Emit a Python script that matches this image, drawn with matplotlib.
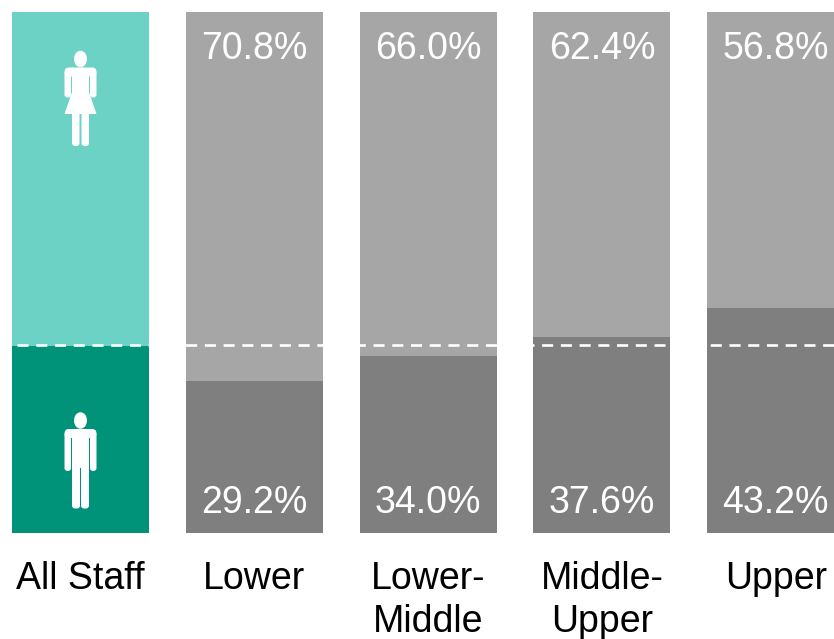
import matplotlib
matplotlib.use("Agg")
import matplotlib.pyplot as plt
from matplotlib.patches import Ellipse, FancyBboxPatch, Polygon

plt.rcParams['font.family'] = ['Liberation Sans', 'DejaVu Sans']

categories = ["All Staff", "Lower", "Lower-\nMiddle", "Middle-\nUpper", "Upper"]
male = [35.9, 29.2, 34.0, 37.6, 43.2]
female = [64.1, 70.8, 66.0, 62.4, 56.8]
male_labels = ["", "29.2%", "34.0%", "37.6%", "43.2%"]
female_labels = ["", "70.8%", "66.0%", "62.4%", "56.8%"]
male_colors = ["#009379", "#7F7F7F", "#7F7F7F", "#7F7F7F", "#7F7F7F"]
female_colors = ["#6BD2C5", "#A6A6A6", "#A6A6A6", "#A6A6A6", "#A6A6A6"]
all_staff_line = 36.0

W, H = 834, 639
fig = plt.figure(figsize=(W / 100, H / 100), dpi=100)

# bars live in an axes that stops at the bar top and baseline
ax = fig.add_axes([0, (H - 532.5) / H, 1, 520.5 / H])
pitch = 173.8
ax.set_xlim(-80.5 / pitch, (W - 80.5) / pitch)
ax.set_ylim(0, 100)

x = range(len(categories))
ax.bar(x, male, width=0.788, color=male_colors)
ax.bar(x, female, width=0.788, bottom=male, color=female_colors)
ax.axhline(all_staff_line, xmin=17 / W, color="white", lw=1.9, linestyle=(0, (4.2, 2.9)))

for i in x:
    ax.annotate(female_labels[i], (i, 100), xytext=(0, -26.6), textcoords="offset points",
                ha="center", va="center", color="white", fontsize=27)
    ax.annotate(male_labels[i], (i, 0), xytext=(0, 21.3), textcoords="offset points",
                ha="center", va="center", color="white", fontsize=27)

ax.set_xticks(list(x))
ax.set_xticklabels(categories, fontsize=27, linespacing=1.25)
ax.tick_params(axis="x", length=0, pad=20.5)
ax.set_yticks([])
for s in ax.spines.values():
    s.set_visible(False)

# overlay in pixel coordinates, just for the two icons
icons = fig.add_axes([0, 0, 1, 1])
icons.set_xlim(0, W)
icons.set_ylim(H, 0)
icons.axis("off")


def round_rect(x0, y0, x1, y1, r=3):
    icons.add_patch(FancyBboxPatch((x0 + r, y0 + r), x1 - x0 - 2 * r, y1 - y0 - 2 * r,
                                   boxstyle=f"round,pad={r},rounding_size={r}",
                                   fc="white", ec="none"))


def upper_body(top, arm_end):
    icons.add_patch(Ellipse((80.5, top - 8.5), 13, 16.5, fc="white", ec="none"))
    round_rect(64.5, top + 3, 71, arm_end)
    round_rect(90, top + 3, 96.5, arm_end)
    round_rect(64.5, top, 96.5, top + 9, r=4.5)


# woman
upper_body(67.5, 97.5)
icons.add_patch(Polygon([(72, 72), (89, 72), (89, 92), (96.5, 114), (64.5, 114), (72, 92)],
                        fc="white", ec="none"))
round_rect(72, 108, 79.5, 146)
round_rect(81.5, 108, 89, 146)

# man
upper_body(429, 471)
icons.add_patch(Polygon([(72, 434), (89, 434), (89, 468), (72, 468)], fc="white", ec="none"))
round_rect(72, 455, 80, 508.5)
round_rect(81, 455, 89, 508.5)

fig.savefig("out.png", dpi=100)
plt.close(fig)
